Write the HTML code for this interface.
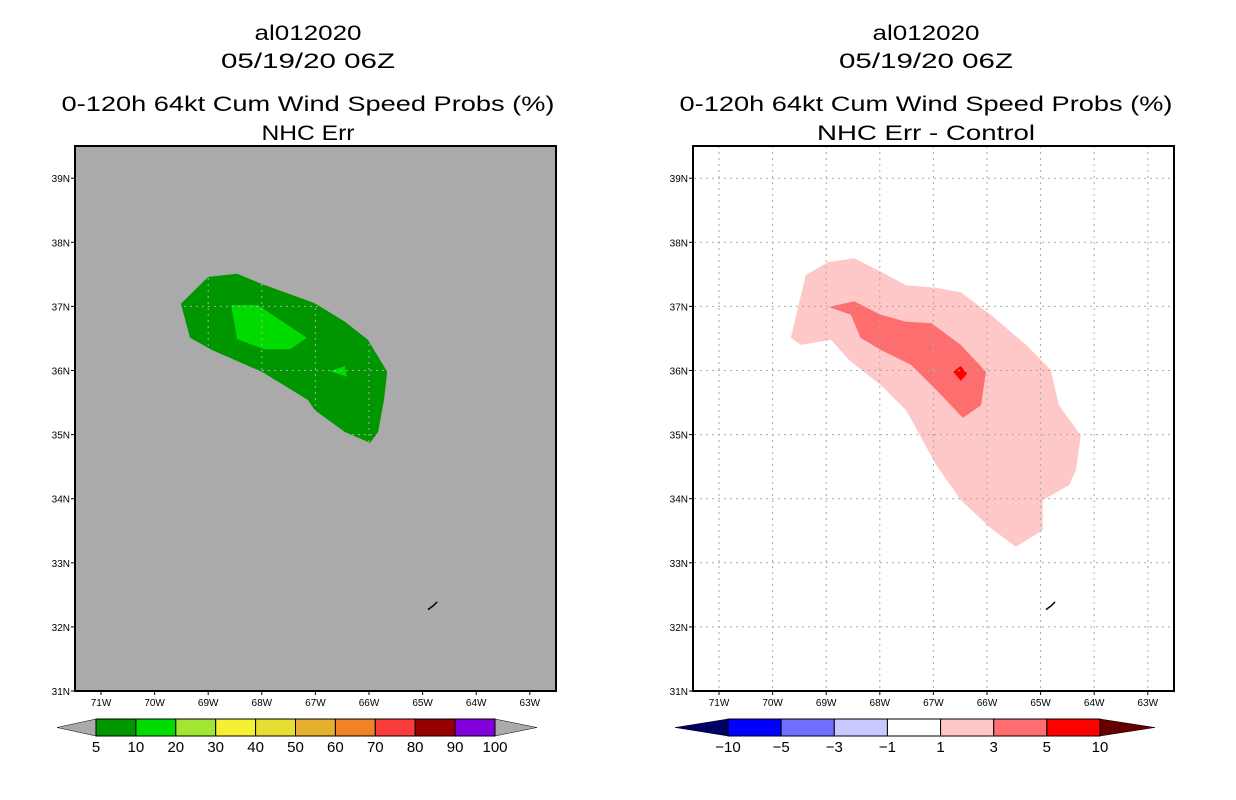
<!DOCTYPE html>
<html><head><meta charset="utf-8"><style>
html,body{margin:0;padding:0;background:#fff;}
svg{display:block;font-family:"Liberation Sans",sans-serif;}
</style></head><body>
<svg id="s" width="1236" height="800" viewBox="0 0 1236 800"></svg>
<script>
// ---- data ----
const latTicks = [31,32,33,34,35,36,37,38,39];
const lonTicks = [71,70,69,68,67,66,65,64,63];
const leftOuter = [[69.51,37.04],[69.00,37.46],[68.46,37.51],[68.00,37.35],[67.01,37.05],[66.45,36.76],[66.02,36.48],[65.66,35.98],[65.72,35.54],[65.83,35.04],[65.98,34.87],[66.45,35.04],[67.01,35.38],[67.14,35.54],[67.51,35.73],[68.00,35.98],[68.93,36.32],[69.34,36.51]];
const leftInner = [[68.57,37.02],[68.07,37.02],[67.16,36.51],[67.47,36.33],[67.96,36.33],[68.46,36.49]];
const leftSmall = [[66.73,35.99],[66.45,36.07],[66.41,35.90]];
const rightOuter = [[69.66,36.51],[69.38,37.49],[68.97,37.69],[68.48,37.75],[67.98,37.54],[67.51,37.33],[66.95,37.29],[66.49,37.22],[65.93,36.87],[65.27,36.40],[64.81,36.01],[64.66,35.46],[64.25,34.99],[64.34,34.45],[64.47,34.21],[64.96,33.98],[64.96,33.51],[65.46,33.25],[65.93,33.54],[66.49,33.98],[66.95,34.53],[67.51,35.38],[67.98,35.77],[68.57,36.16],[68.91,36.48],[69.47,36.40]];
const rightMid = [[68.95,36.99],[68.48,37.08],[67.98,36.87],[67.51,36.76],[67.04,36.74],[66.49,36.40],[66.02,35.98],[66.11,35.46],[66.45,35.26],[66.95,35.70],[67.42,36.09],[67.98,36.32],[68.36,36.51],[68.54,36.87]];
const rightRed = [[66.63,35.98],[66.49,36.07],[66.37,35.95],[66.49,35.84]];
const bermuda = [[64.90,32.27],[64.80,32.33],[64.73,32.39]];
const leftCbLabels = ["5","10","20","30","40","50","60","70","80","90","100"];
const leftCbColors = ["#009600","#00dc00","#a0e632","#f5f032","#e6dc32","#e6af2d","#f08228","#fa3c3c","#960000","#8200dc"];
const rightCbLabels = ["\u221210","\u22125","\u22123","\u22121","1","3","5","10"];
const rightCbColors = ["#0000ff","#6e6eff","#c8c8ff","#ffffff","#ffc8c8","#ff6e6e","#ff0000"];

const NS="http://www.w3.org/2000/svg", svg=document.getElementById('s');
function mk(tag, at, parent){const e=document.createElementNS(NS,tag);for(const k in at)e.setAttribute(k,at[k]);(parent||svg).appendChild(e);return e;}
function panel(ox, bg){
  const g=mk('g',{});
  const xS=w=>ox+101+(71-w)*53.6, yS=l=>691-(l-31)*64.1;
  const pts=a=>a.map(p=>xS(p[0]).toFixed(1)+','+yS(p[1]).toFixed(1)).join(' ');
  return {g,xS,yS,pts};
}
function title(cx, lines){
  const ys=[40,68,111,140];
  lines.forEach((t,i)=>{
    const e=mk('text',{x:cx,y:ys[i],'text-anchor':'middle','font-size':21,fill:'#000',textLength:t[1],lengthAdjust:'spacingAndGlyphs'});
    e.textContent=t[0];
    
    
  });
}
function drawPanel(ox, bg, polys, name){
  const P=panel(ox,bg);
  
  
  const bgR=mk('rect',{x:ox+75,y:146,width:481,height:545,fill:bg},P.g);
  
  
  polys.forEach(pp=>{
    const e=mk('polygon',{points:P.pts(pp[0]),fill:pp[1]},P.g);
    
    
  });
  // grid
  lonTicks.forEach(w=>{
    const e=mk('line',{x1:P.xS(w),x2:P.xS(w),y1:146,y2:691,stroke:'#aaaaaa','stroke-width':1,'stroke-dasharray':'2,4'},P.g);
    
    
  });
  latTicks.forEach(l=>{
    const e=mk('line',{x1:ox+76,x2:ox+556,y1:P.yS(l),y2:P.yS(l),stroke:'#aaaaaa','stroke-width':1,'stroke-dasharray':'2,4'},P.g);
    
    
  });
  const b=mk('polyline',{points:P.pts(bermuda),fill:'none',stroke:'#000','stroke-width':1.5},P.g);
  
  
  const fr=mk('rect',{x:ox+75,y:146,width:481,height:545,fill:'none',stroke:'#000','stroke-width':2},P.g);
  
  
  latTicks.forEach(l=>{
    mk('line',{x1:ox+71,x2:ox+75,y1:P.yS(l),y2:P.yS(l),stroke:'#000','stroke-width':1},P.g);
    const t=mk('text',{x:ox+70,y:P.yS(l)+4,'text-anchor':'end','font-size':10},P.g);
    t.textContent=l+'N';
    
    
  });
  lonTicks.forEach(w=>{
    mk('line',{x1:P.xS(w),x2:P.xS(w),y1:691,y2:695,stroke:'#000','stroke-width':1},P.g);
    const t=mk('text',{x:P.xS(w),y:706,'text-anchor':'middle','font-size':10},P.g);
    t.textContent=w+'W';
    
    
  });
}
function colorbar(x0,x1,xb0,xb1,labels,colors,lc,rc,name){
  const g=mk('g',{});
  
  
  const y0=719,y1=736,n=colors.length,w=(xb1-xb0)/n;
  mk('polygon',{points:`${x0},727.5 ${xb0},${y0} ${xb0},${y1}`,fill:lc,stroke:'#000','stroke-width':0.5},g);
  mk('polygon',{points:`${x1},727.5 ${xb1},${y0} ${xb1},${y1}`,fill:rc,stroke:'#000','stroke-width':0.5},g);
  colors.forEach((c,i)=>{
    const r=mk('rect',{x:xb0+i*w,y:y0,width:w,height:y1-y0,fill:c,stroke:'#000','stroke-width':1},g);
    
    
  });
  const step=labels.length===colors.length+1?1:1;
  labels.forEach((t,i)=>{
    const e=mk('text',{x:xb0+i*w*(colors.length/(labels.length-1)),y:752,'text-anchor':'middle','font-size':15},g);
    e.textContent=t;
    
    
  });
}
title(308,[["al012020",107],["05/19/20 06Z",174],["0-120h 64kt Cum Wind Speed Probs (%)",493],["NHC Err",93]]);
title(926,[["al012020",107],["05/19/20 06Z",174],["0-120h 64kt Cum Wind Speed Probs (%)",493],["NHC Err - Control",218]]);
drawPanel(0,'#aaaaaa',[[leftOuter,'#009600','prob-5-10'],[leftInner,'#00dc00','prob-10-20-a'],[leftSmall,'#00dc00','prob-10-20-b']],'left-map');
drawPanel(618,'#ffffff',[[rightOuter,'#ffc8c8','diff-1-3'],[rightMid,'#ff6e6e','diff-3-5'],[rightRed,'#ff0000','diff-5-10']],'right-map');
colorbar(57,537,96,495,leftCbLabels,leftCbColors,'#aaaaaa','#aaaaaa','left-colorbar');
colorbar(675,1155,728,1100,rightCbLabels,rightCbColors,'#000064','#640000','right-colorbar');
</script>
</body></html>
